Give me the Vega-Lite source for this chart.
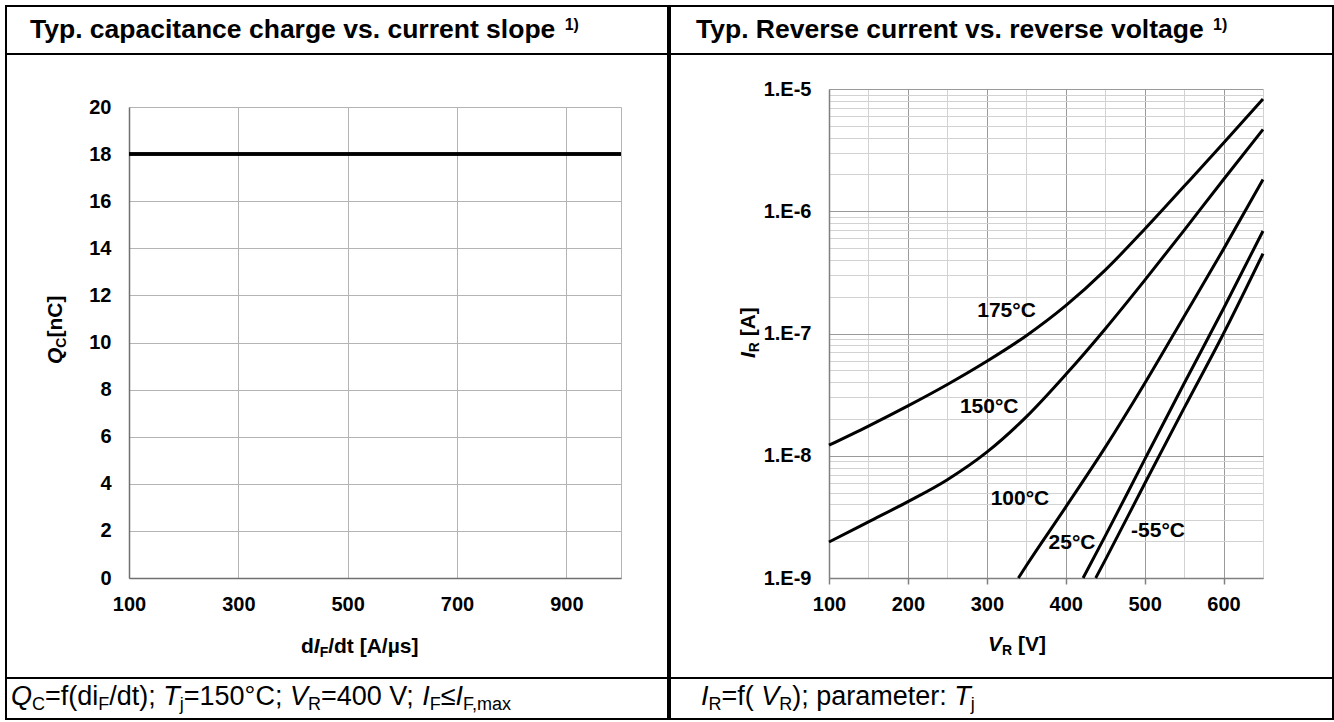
{
  "$schema": "https://vega.github.io/schema/vega-lite/v6.json",
  "padding": {"left": 4, "top": 4, "right": 2, "bottom": 2},
  "background": "white",
  "config": {
    "font": "Liberation Sans",
    "view": {"stroke": "black", "strokeWidth": 2},
    "text": {"font": "Liberation Sans", "color": "black"},
    "axis": {"labelFont": "Liberation Sans", "labelColor": "black", "labelFontSize": 20, "labelFontWeight": "bold", "labelFlush": false, "labelOverlap": false, "labelBound": false}
  },
  "spacing": -2,
  "hconcat": [
    {
      "spacing": 0,
      "bounds": "flush",
      "vconcat": [
        {
          "width": 662,
          "height": 48,
          "data": {"values": [{}]},
          "layer": [
            {"mark": {"type": "rect", "fill": "white", "fillOpacity": 0, "stroke": "black", "strokeWidth": 2}, "encoding": {"x": {"value": 0}, "x2": {"value": "width"}, "y": {"value": 0}, "y2": {"value": "height"}}},
            {"mark": {"type": "text", "text": "Typ. capacitance charge vs. current slope", "x": 24, "y": 32, "align": "left", "baseline": "alphabetic", "fontSize": 26.5, "fontWeight": "bold"}},
            {"mark": {"type": "text", "text": "1)", "x": 558.7, "y": 24, "align": "left", "baseline": "alphabetic", "fontSize": 16, "fontWeight": "bold"}}
          ]
        },
        {
          "width": 662,
          "height": 624,
          "layer": [
            {
              "data": {"values": [{"didt": 100, "Qc": 18}, {"didt": 1000, "Qc": 18}]},
              "mark": {"type": "line", "color": "black", "strokeWidth": 3.5},
              "encoding": {
                "x": {"field": "didt", "type": "quantitative", "scale": {"domain": [100, 1000], "range": [123, 615], "nice": false, "zero": false},
                  "axis": {"orient": "top", "values": [100, 300, 500, 700, 900, 1000], "grid": true, "gridColor": "#b4b4b4", "gridWidth": 1, "labels": false, "ticks": false, "domain": false, "title": null}},
                "y": {"field": "Qc", "type": "quantitative", "scale": {"domain": [0, 20], "range": [524, 53], "nice": false, "zero": false},
                  "axis": {"orient": "left", "offset": -123, "values": [0, 2, 4, 6, 8, 10, 12, 14, 16, 18, 20], "grid": true, "gridColor": "#b4b4b4", "gridWidth": 1, "domainColor": "#707070", "domainWidth": 1.5, "ticks": false, "tickSize": 0, "labelPadding": 18, "title": null}}
              }
            },
            {
              "data": {"values": [{"didt": 100, "Qc": 18}, {"didt": 1000, "Qc": 18}]},
              "mark": {"type": "line", "color": "black", "strokeWidth": 3.5},
              "encoding": {
                "x": {"field": "didt", "type": "quantitative", "scale": {"domain": [100, 1000], "range": [123, 615], "nice": false, "zero": false},
                  "axis": {"orient": "bottom", "offset": -100, "values": [100, 300, 500, 700, 900], "grid": false, "ticks": false, "tickSize": 0, "domainColor": "#707070", "domainWidth": 1.5, "labelPadding": 16.5, "title": null}},
                "y": {"field": "Qc", "type": "quantitative", "scale": {"domain": [0, 20], "range": [524, 53], "nice": false, "zero": false},
                  "axis": {"orient": "left", "offset": -123, "values": [0, 2, 4, 6, 8, 10, 12, 14, 16, 18, 20], "grid": true, "gridColor": "#b4b4b4", "gridWidth": 1, "domainColor": "#707070", "domainWidth": 1.5, "ticks": false, "tickSize": 0, "labelPadding": 18, "title": null}}
              }
            },
            {"data": {"values": [{}]}, "mark": {"type": "text", "text": "d", "x": 295, "y": 599, "align": "left", "baseline": "alphabetic", "fontSize": 21, "fontWeight": "bold"}},
            {"data": {"values": [{}]}, "mark": {"type": "text", "text": "I", "x": 307.8, "y": 599, "align": "left", "baseline": "alphabetic", "fontSize": 21, "fontWeight": "bold", "fontStyle": "italic"}},
            {"data": {"values": [{}]}, "mark": {"type": "text", "text": "F", "x": 313.7, "y": 603, "align": "left", "baseline": "alphabetic", "fontSize": 14, "fontWeight": "bold"}},
            {"data": {"values": [{}]}, "mark": {"type": "text", "text": "/dt [A/µs]", "x": 322.2, "y": 599, "align": "left", "baseline": "alphabetic", "fontSize": 21, "fontWeight": "bold"}},
            {"data": {"values": [{}]}, "mark": {"type": "text", "text": "Q", "x": 56, "y": 310, "angle": 270, "align": "left", "baseline": "alphabetic", "fontSize": 21, "fontWeight": "bold", "fontStyle": "italic"}},
            {"data": {"values": [{}]}, "mark": {"type": "text", "text": "C", "x": 60, "y": 293.7, "angle": 270, "align": "left", "baseline": "alphabetic", "fontSize": 14, "fontWeight": "bold"}},
            {"data": {"values": [{}]}, "mark": {"type": "text", "text": "[nC]", "x": 56, "y": 283.6, "angle": 270, "align": "left", "baseline": "alphabetic", "fontSize": 21, "fontWeight": "bold"}}
          ]
        },
        {
          "width": 662,
          "height": 41,
          "data": {"values": [{}]},
          "layer": [
            {"mark": {"type": "rect", "fill": "white", "fillOpacity": 0, "stroke": "black", "strokeWidth": 2}, "encoding": {"x": {"value": 0}, "x2": {"value": "width"}, "y": {"value": 0}, "y2": {"value": "height"}}},
            {"mark": {"type": "text", "text": "Q", "x": 5, "y": 27, "align": "left", "baseline": "alphabetic", "fontSize": 27, "fontStyle": "italic"}},
            {"mark": {"type": "text", "text": "C", "x": 26.0, "y": 32, "align": "left", "baseline": "alphabetic", "fontSize": 18}},
            {"mark": {"type": "text", "text": "=f(di", "x": 39.0, "y": 27, "align": "left", "baseline": "alphabetic", "fontSize": 27}},
            {"mark": {"type": "text", "text": "F", "x": 92.27, "y": 32, "align": "left", "baseline": "alphabetic", "fontSize": 18}},
            {"mark": {"type": "text", "text": "/dt);", "x": 103.27, "y": 27, "align": "left", "baseline": "alphabetic", "fontSize": 27}},
            {"mark": {"type": "text", "text": "T", "x": 157.3, "y": 27, "align": "left", "baseline": "alphabetic", "fontSize": 27, "fontStyle": "italic"}},
            {"mark": {"type": "text", "text": "j", "x": 173.8, "y": 32, "align": "left", "baseline": "alphabetic", "fontSize": 18}},
            {"mark": {"type": "text", "text": "=150°C;", "x": 177.8, "y": 27, "align": "left", "baseline": "alphabetic", "fontSize": 27}},
            {"mark": {"type": "text", "text": "V", "x": 283.91, "y": 27, "align": "left", "baseline": "alphabetic", "fontSize": 27, "fontStyle": "italic"}},
            {"mark": {"type": "text", "text": "R", "x": 301.92, "y": 32, "align": "left", "baseline": "alphabetic", "fontSize": 18}},
            {"mark": {"type": "text", "text": "=400 V;", "x": 314.92, "y": 27, "align": "left", "baseline": "alphabetic", "fontSize": 27}},
            {"mark": {"type": "text", "text": "I", "x": 416.25, "y": 27, "align": "left", "baseline": "alphabetic", "fontSize": 27, "fontStyle": "italic"}},
            {"mark": {"type": "text", "text": "F", "x": 423.76, "y": 32, "align": "left", "baseline": "alphabetic", "fontSize": 18}},
            {"mark": {"type": "text", "text": "≤", "x": 434.76, "y": 27, "align": "left", "baseline": "alphabetic", "fontSize": 27}},
            {"mark": {"type": "text", "text": "I", "x": 449.58, "y": 27, "align": "left", "baseline": "alphabetic", "fontSize": 27, "fontStyle": "italic"}},
            {"mark": {"type": "text", "text": "F,max", "x": 457.09, "y": 32, "align": "left", "baseline": "alphabetic", "fontSize": 18}}
          ]
        }
      ]
    },
    {
      "spacing": 0,
      "bounds": "flush",
      "vconcat": [
        {
          "width": 663,
          "height": 48,
          "data": {"values": [{}]},
          "layer": [
            {"mark": {"type": "rect", "fill": "white", "fillOpacity": 0, "stroke": "black", "strokeWidth": 2}, "encoding": {"x": {"value": 0}, "x2": {"value": "width"}, "y": {"value": 0}, "y2": {"value": "height"}}},
            {"mark": {"type": "text", "text": "Typ. Reverse current vs. reverse voltage", "x": 26, "y": 32, "align": "left", "baseline": "alphabetic", "fontSize": 26.5, "fontWeight": "bold"}},
            {"mark": {"type": "text", "text": "1)", "x": 543, "y": 24, "align": "left", "baseline": "alphabetic", "fontSize": 16, "fontWeight": "bold"}}
          ]
        },
        {
          "width": 663,
          "height": 624,
          "layer": [
            {
              "data": {"values": [
                {"Tj": "175°C", "V": 100, "I": 1.22e-8}, {"Tj": "175°C", "V": 150, "I": 1.75e-8}, {"Tj": "175°C", "V": 200, "I": 2.56e-8}, {"Tj": "175°C", "V": 250, "I": 3.83e-8}, {"Tj": "175°C", "V": 300, "I": 5.93e-8}, {"Tj": "175°C", "V": 350, "I": 9.6e-8}, {"Tj": "175°C", "V": 400, "I": 1.69e-7}, {"Tj": "175°C", "V": 450, "I": 3.3e-7}, {"Tj": "175°C", "V": 500, "I": 7.13e-7}, {"Tj": "175°C", "V": 550, "I": 1.6e-6}, {"Tj": "175°C", "V": 600, "I": 3.61e-6}, {"Tj": "175°C", "V": 650, "I": 8.28e-6},
                {"Tj": "150°C", "V": 100, "I": 1.97e-9}, {"Tj": "150°C", "V": 150, "I": 2.88e-9}, {"Tj": "150°C", "V": 200, "I": 4.21e-9}, {"Tj": "150°C", "V": 250, "I": 6.37e-9}, {"Tj": "150°C", "V": 300, "I": 1.07e-8}, {"Tj": "150°C", "V": 350, "I": 2.08e-8}, {"Tj": "150°C", "V": 400, "I": 4.61e-8}, {"Tj": "150°C", "V": 450, "I": 1.09e-7}, {"Tj": "150°C", "V": 500, "I": 2.72e-7}, {"Tj": "150°C", "V": 550, "I": 6.98e-7}, {"Tj": "150°C", "V": 600, "I": 1.82e-6}, {"Tj": "150°C", "V": 650, "I": 4.67e-6},
                {"Tj": "100°C", "V": 340, "I": 1.0e-9}, {"Tj": "100°C", "V": 350, "I": 1.26e-9}, {"Tj": "100°C", "V": 400, "I": 3.8e-9}, {"Tj": "100°C", "V": 450, "I": 1.17e-8}, {"Tj": "100°C", "V": 500, "I": 3.9e-8}, {"Tj": "100°C", "V": 550, "I": 1.38e-7}, {"Tj": "100°C", "V": 600, "I": 4.9e-7}, {"Tj": "100°C", "V": 650, "I": 1.82e-6},
                {"Tj": "25°C", "V": 422, "I": 1.0e-9}, {"Tj": "25°C", "V": 450, "I": 2.2e-9}, {"Tj": "25°C", "V": 500, "I": 9.3e-9}, {"Tj": "25°C", "V": 550, "I": 3.9e-8}, {"Tj": "25°C", "V": 600, "I": 1.6e-7}, {"Tj": "25°C", "V": 650, "I": 6.9e-7},
                {"Tj": "-55°C", "V": 438, "I": 1.0e-9}, {"Tj": "-55°C", "V": 450, "I": 1.4e-9}, {"Tj": "-55°C", "V": 500, "I": 5.9e-9}, {"Tj": "-55°C", "V": 550, "I": 2.45e-8}, {"Tj": "-55°C", "V": 600, "I": 1.0e-7}, {"Tj": "-55°C", "V": 650, "I": 4.5e-7}
              ]},
              "mark": {"type": "line", "color": "black", "strokeWidth": 3, "interpolate": "monotone", "clip": true},
              "encoding": {
                "x": {"field": "V", "type": "quantitative", "scale": {"domain": [100, 650], "range": [159, 593], "nice": false, "zero": false},
                  "axis": {"orient": "bottom", "offset": -100, "values": [100, 200, 300, 400, 500, 600], "grid": false, "ticks": true, "tickSize": 6, "tickColor": "#808080", "tickWidth": 1.5, "domainColor": "#808080", "domainWidth": 1.5, "labelPadding": 10.5, "title": null}},
                "y": {"field": "I", "type": "quantitative", "scale": {"type": "log", "domain": [1e-9, 1e-5], "range": [524, 35], "nice": false},
                  "axis": {"orient": "left", "offset": -159,
                    "values": [1e-9, 2e-9, 3e-9, 4e-9, 5e-9, 6e-9, 7e-9, 8e-9, 9e-9, 1e-8, 2e-8, 3e-8, 4e-8, 5e-8, 6e-8, 7e-8, 8e-8, 9e-8, 1e-7, 2e-7, 3e-7, 4e-7, 5e-7, 6e-7, 7e-7, 8e-7, 9e-7, 1e-6, 2e-6, 3e-6, 4e-6, 5e-6, 6e-6, 7e-6, 8e-6, 9e-6, 1e-5],
                    "labelExpr": "abs(log(datum.value)/LN10 - round(log(datum.value)/LN10)) < 0.001 ? '1.E-' + (-round(log(datum.value)/LN10)) : ''",
                    "grid": true,
                    "gridColor": {"condition": {"test": "abs(log(datum.value)/LN10 - round(log(datum.value)/LN10)) < 0.001", "value": "#9a9a9a"}, "value": "#d2d2d2"},
                    "gridWidth": 1, "domainColor": "#808080", "domainWidth": 1.5, "ticks": false, "tickSize": 0, "labelPadding": 18, "title": null}},
                "detail": {"field": "Tj", "type": "nominal"}
              }
            },
            {
              "data": {"values": [
                {"label": "175°C", "V": 325, "I": 1.53e-7},
                {"label": "150°C", "V": 303, "I": 2.5e-8},
                {"label": "100°C", "V": 342, "I": 4.4e-9},
                {"label": "25°C", "V": 408, "I": 1.93e-9},
                {"label": "-55°C", "V": 517, "I": 2.42e-9}
              ]},
              "mark": {"type": "text", "fontSize": 21, "fontWeight": "bold", "align": "center", "baseline": "middle", "color": "black"},
              "encoding": {
                "x": {"field": "V", "type": "quantitative", "scale": {"domain": [100, 650], "range": [159, 593], "nice": false, "zero": false},
                  "axis": {"orient": "top", "values": [100, 150, 200, 250, 300, 350, 400, 450, 500, 550, 600, 650], "grid": true,
                    "gridColor": {"condition": {"test": "datum.value % 100 === 0", "value": "#9a9a9a"}, "value": "#d2d2d2"},
                    "gridWidth": 1, "labels": false, "ticks": false, "domain": false, "title": null}},
                "y": {"field": "I", "type": "quantitative", "scale": {"type": "log", "domain": [1e-9, 1e-5], "range": [524, 35], "nice": false},
                  "axis": {"orient": "left", "offset": -159,
                    "values": [1e-9, 2e-9, 3e-9, 4e-9, 5e-9, 6e-9, 7e-9, 8e-9, 9e-9, 1e-8, 2e-8, 3e-8, 4e-8, 5e-8, 6e-8, 7e-8, 8e-8, 9e-8, 1e-7, 2e-7, 3e-7, 4e-7, 5e-7, 6e-7, 7e-7, 8e-7, 9e-7, 1e-6, 2e-6, 3e-6, 4e-6, 5e-6, 6e-6, 7e-6, 8e-6, 9e-6, 1e-5],
                    "labelExpr": "abs(log(datum.value)/LN10 - round(log(datum.value)/LN10)) < 0.001 ? '1.E-' + (-round(log(datum.value)/LN10)) : ''",
                    "grid": true,
                    "gridColor": {"condition": {"test": "abs(log(datum.value)/LN10 - round(log(datum.value)/LN10)) < 0.001", "value": "#9a9a9a"}, "value": "#d2d2d2"},
                    "gridWidth": 1, "domainColor": "#808080", "domainWidth": 1.5, "ticks": false, "tickSize": 0, "labelPadding": 18, "title": null}},
                "text": {"field": "label", "type": "nominal"}
              }
            },
            {"data": {"values": [{}]}, "mark": {"type": "text", "text": "V", "x": 318, "y": 597, "align": "left", "baseline": "alphabetic", "fontSize": 21, "fontWeight": "bold", "fontStyle": "italic"}},
            {"data": {"values": [{}]}, "mark": {"type": "text", "text": "R", "x": 332, "y": 601, "align": "left", "baseline": "alphabetic", "fontSize": 14, "fontWeight": "bold"}},
            {"data": {"values": [{}]}, "mark": {"type": "text", "text": "[V]", "x": 347.9, "y": 597, "align": "left", "baseline": "alphabetic", "fontSize": 21, "fontWeight": "bold"}},
            {"data": {"values": [{}]}, "mark": {"type": "text", "text": "I", "x": 85, "y": 304, "angle": 270, "align": "left", "baseline": "alphabetic", "fontSize": 21, "fontWeight": "bold", "fontStyle": "italic"}},
            {"data": {"values": [{}]}, "mark": {"type": "text", "text": "R", "x": 89, "y": 298.2, "angle": 270, "align": "left", "baseline": "alphabetic", "fontSize": 14, "fontWeight": "bold"}},
            {"data": {"values": [{}]}, "mark": {"type": "text", "text": "[A]", "x": 85, "y": 282.3, "angle": 270, "align": "left", "baseline": "alphabetic", "fontSize": 21, "fontWeight": "bold"}}
          ]
        },
        {
          "width": 663,
          "height": 41,
          "data": {"values": [{}]},
          "layer": [
            {"mark": {"type": "rect", "fill": "white", "fillOpacity": 0, "stroke": "black", "strokeWidth": 2}, "encoding": {"x": {"value": 0}, "x2": {"value": "width"}, "y": {"value": 0}, "y2": {"value": "height"}}},
            {"mark": {"type": "text", "text": "I", "x": 31, "y": 27, "align": "left", "baseline": "alphabetic", "fontSize": 27, "fontStyle": "italic"}},
            {"mark": {"type": "text", "text": "R", "x": 38.51, "y": 32, "align": "left", "baseline": "alphabetic", "fontSize": 18}},
            {"mark": {"type": "text", "text": "=f(", "x": 51.51, "y": 27, "align": "left", "baseline": "alphabetic", "fontSize": 27}},
            {"mark": {"type": "text", "text": "V", "x": 91.28, "y": 27, "align": "left", "baseline": "alphabetic", "fontSize": 27, "fontStyle": "italic"}},
            {"mark": {"type": "text", "text": "R", "x": 109.29, "y": 32, "align": "left", "baseline": "alphabetic", "fontSize": 18}},
            {"mark": {"type": "text", "text": "); parameter:", "x": 122.29, "y": 27, "align": "left", "baseline": "alphabetic", "fontSize": 27}},
            {"mark": {"type": "text", "text": "T", "x": 284.34, "y": 27, "align": "left", "baseline": "alphabetic", "fontSize": 27, "fontStyle": "italic"}},
            {"mark": {"type": "text", "text": "j", "x": 300.84, "y": 32, "align": "left", "baseline": "alphabetic", "fontSize": 18}}
          ]
        }
      ]
    }
  ]
}
